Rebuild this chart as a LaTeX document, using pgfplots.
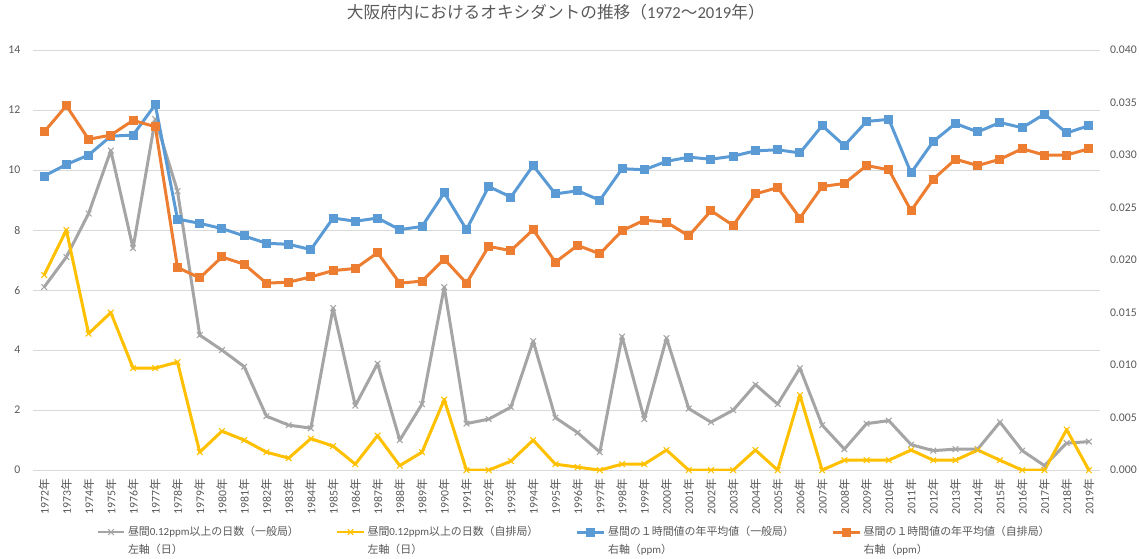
\documentclass[border=0pt]{standalone}
\usepackage{pgfplots}
\usepackage{pgfplotstable}
\pgfplotsset{compat=1.18}
\usepackage{fontspec}
\setmainfont{Carlito}
\newfontfamily\jp{Noto Sans CJK JP}

\definecolor{cgray}{HTML}{A5A5A5}
\definecolor{cyel}{HTML}{FFC000}
\definecolor{cblue}{HTML}{5B9BD5}
\definecolor{corg}{HTML}{ED7D31}
\definecolor{gridc}{HTML}{D9D9D9}
\definecolor{txt}{HTML}{595959}

% days with 0.12ppm or more (general / roadside stations)
\pgfplotstableread{
year gen jih
1972 6.1 6.5
1973 7.1 8.0
1974 8.55 4.55
1975 10.65 5.25
1976 7.4 3.4
1977 11.7 3.4
1978 9.3 3.6
1979 4.5 0.6
1980 4.0 1.3
1981 3.45 1.0
1982 1.8 0.6
1983 1.5 0.4
1984 1.4 1.05
1985 5.4 0.8
1986 2.15 0.2
1987 3.55 1.15
1988 1.0 0.15
1989 2.2 0.6
1990 6.1 2.35
1991 1.55 0.0
1992 1.7 0.0
1993 2.1 0.3
1994 4.3 1.0
1995 1.75 0.2
1996 1.25 0.1
1997 0.6 0.0
1998 4.45 0.2
1999 1.7 0.2
2000 4.4 0.67
2001 2.05 0
2002 1.6 0
2003 2.0 0
2004 2.85 0.67
2005 2.2 0
2006 3.4 2.5
2007 1.5 0
2008 0.7 0.33
2009 1.55 0.33
2010 1.65 0.33
2011 0.85 0.67
2012 0.65 0.33
2013 0.7 0.33
2014 0.7 0.67
2015 1.6 0.33
2016 0.65 0
2017 0.15 0
2018 0.9 1.35
2019 0.95 0
}\daysdata

% yearly mean of daytime 1-hour values (ppm)
\pgfplotstableread{
year gen jih
1972 0.0280 0.0322
1973 0.0291 0.0347
1974 0.0300 0.0315
1975 0.0318 0.0319
1976 0.0319 0.0333
1977 0.0348 0.0327
1978 0.0239 0.0193
1979 0.0235 0.0183
1980 0.0230 0.0203
1981 0.0223 0.0196
1982 0.0216 0.0178
1983 0.0215 0.0179
1984 0.0210 0.0184
1985 0.0240 0.0190
1986 0.0237 0.0192
1987 0.0240 0.0207
1988 0.0229 0.0178
1989 0.0232 0.0180
1990 0.0264 0.0201
1991 0.0229 0.0178
1992 0.0270 0.0213
1993 0.0260 0.0209
1994 0.0290 0.0229
1995 0.0263 0.0198
1996 0.0266 0.0214
1997 0.0257 0.0206
1998 0.0287 0.0228
1999 0.0286 0.0238
2000 0.0294 0.0236
2001 0.0298 0.0223
2002 0.0296 0.0247
2003 0.0299 0.0233
2004 0.0304 0.0263
2005 0.0305 0.0269
2006 0.0302 0.0240
2007 0.0328 0.0270
2008 0.0309 0.0273
2009 0.0332 0.0290
2010 0.0334 0.0286
2011 0.0283 0.0247
2012 0.0313 0.0277
2013 0.0330 0.0296
2014 0.0322 0.0290
2015 0.0331 0.0296
2016 0.0326 0.0306
2017 0.0339 0.0300
2018 0.0321 0.0300
2019 0.0328 0.0306
}\avgdata

\pgfplotsset{
  base/.style={
    scale only axis, width=800pt, height=315pt,
    xmin=1971.5, xmax=2019.5,
    axis line style={draw=none},
    major tick length=0pt,
    /pgf/number format/assume math mode=true,
    tick label style={font=\fontsize{8.8}{10}\selectfont, text=txt},
  },
  dayline/.style={line width=2.25pt, line join=round, mark=x, mark size=3pt,
    mark options={solid, line width=0.8pt}},
  avgline/.style={line width=2.25pt, line join=round, mark=square*, mark size=3pt,
    mark options={solid, line width=0pt}},
}

\begin{document}
\begin{tikzpicture}

\begin{axis}[base, name=ax,
    ymin=0, ymax=14, ytick={0,2,...,14},
    ymajorgrids, grid style={gridc, line width=0.75pt},
    xtick={1972,...,2019},
    xticklabel={\pgfmathprintnumber[1000 sep={}]{\tick}{\jp 年}},
    xticklabel style={rotate=90, anchor=east, xshift=-3pt},
    yticklabel style={xshift=-6pt},
    title={{\jp 大阪府内におけるオキシダントの推移（}1972{\jp ～}2019{\jp 年）}},
    title style={at={(0.5,1)}, anchor=center, yshift=22.5pt, xshift=-8pt,
      font=\fontsize{12.5}{14}\selectfont, text=txt},
]
\addplot[dayline, color=cgray] table[x=year, y=gen] {\daysdata};
\addplot[dayline, color=cyel] table[x=year, y=jih] {\daysdata};
\end{axis}

\begin{axis}[base,
    axis x line=none, axis y line*=right,
    ymin=0, ymax=0.04,
    ytick={0,0.005,0.01,0.015,0.02,0.025,0.03,0.035,0.04},
    scaled y ticks=false,
    yticklabel style={/pgf/number format/.cd, fixed, fixed zerofill, precision=3,
      /tikz/.cd, xshift=4pt},
    legend columns=4,
    legend cell align=left,
    legend image code/.code={\draw[mark repeat=2, mark phase=2]
      plot coordinates {(0pt,0pt) (10pt,0pt) (20pt,0pt)};},
    legend style={at={(0.5,0)}, anchor=north, yshift=-40pt, xshift=6pt,
      draw=none, fill=none, inner sep=0pt,
      font=\fontsize{8.2}{10}\selectfont, text=txt,
      /tikz/every even column/.append style={column sep=26pt}},
]
\addlegendimage{dayline, color=cgray, line width=1.5pt}
\addlegendentry{\begin{tabular}[t]{@{}l@{}}{\jp 昼間}0.12ppm{\jp 以上の日数（一般局）}\\[3pt]{\jp 左軸（日）}\end{tabular}}
\addlegendimage{dayline, color=cyel, line width=1.5pt}
\addlegendentry{\begin{tabular}[t]{@{}l@{}}{\jp 昼間}0.12ppm{\jp 以上の日数（自排局）}\\[3pt]{\jp 左軸（日）}\end{tabular}}
\addplot[avgline, color=cblue] table[x=year, y=gen] {\avgdata};
\addlegendentry{\begin{tabular}[t]{@{}l@{}}{\jp 昼間の１時間値の年平均値（一般局）}\\[3pt]{\jp 右軸（}ppm{\jp ）}\end{tabular}}
\addplot[avgline, color=corg] table[x=year, y=jih] {\avgdata};
\addlegendentry{\begin{tabular}[t]{@{}l@{}}{\jp 昼間の１時間値の年平均値（自排局）}\\[3pt]{\jp 右軸（}ppm{\jp ）}\end{tabular}}
\end{axis}

\pgfresetboundingbox
\useasboundingbox ([xshift=-24.75pt, yshift=-66pt]ax.south west)
  rectangle ([xshift=29.25pt, yshift=37.5pt]ax.north east);
\end{tikzpicture}
\end{document}
